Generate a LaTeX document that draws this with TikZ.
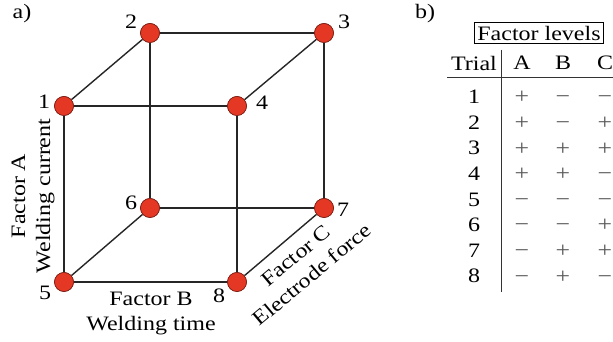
\documentclass[tikz,border=0pt]{standalone}
\usepackage{fontspec}
\setmainfont{Liberation Serif}[FakeStretch=1.17]
\definecolor{dotred}{RGB}{228,56,36}
\definecolor{dotedge}{RGB}{120,30,20}
\definecolor{signgray}{RGB}{90,90,90}
\tikzset{
  corner/.style={circle, fill=dotred, draw=dotedge, line width=0.6pt, minimum size=19pt, inner sep=0pt},
  edge/.style={line width=1.4pt, draw=black!85},
  txt/.style={font=\fontsize{20.5}{25}\selectfont, inner sep=0pt},
  sign/.style={font=\fontsize{22}{25}\selectfont, text=signgray, inner sep=0pt, anchor=base}
}
\begin{document}
\begin{tikzpicture}[x=1pt,y=1pt]
\useasboundingbox (0,0) rectangle (613,342);
\clip (0,0) rectangle (613,342);

% cube corners
\node[corner] (c1) at (64,236) {};
\node[corner] (c2) at (150,309) {};
\node[corner] (c3) at (324,309) {};
\node[corner] (c4) at (237,236) {};
\node[corner] (c5) at (64,60) {};
\node[corner] (c6) at (150,134) {};
\node[corner] (c7) at (324,134) {};
\node[corner] (c8) at (237,60) {};

% edges
\draw[edge] (c1) -- (c2);
\draw[edge] (c2) -- (c3);
\draw[edge] (c3) -- (c4);
\draw[edge] (c4) -- (c1);
\draw[edge] (c5) -- (c6);
\draw[edge] (c6) -- (c7);
\draw[edge] (c7) -- (c8);
\draw[edge] (c8) -- (c5);
\draw[edge] (c1) -- (c5);
\draw[edge] (c2) -- (c6);
\draw[edge] (c3) -- (c7);
\draw[edge] (c4) -- (c8);
\foreach \i in {1,...,8} {\node[corner] at (c\i) {};}

% corner numbers
\node[txt] (n1) at (44,240) {1};
\node[txt] (n2) at (131,320) {2};
\node[txt] (n3) at (344,320) {3};
\node[txt] (n4) at (262,239) {4};
\node[txt] (n5) at (45,49) {5};
\node[txt] (n6) at (131,139) {6};
\node[txt] (n7) at (343,132) {7};
\node[txt] (n8) at (219,46) {8};

% factor labels
\node[txt, align=center, rotate=90] (fa) at (33,146) {Factor A\\Welding current};
\node[txt, align=center] (fb) at (151,28) {Factor B\\Welding time};
\node[txt, align=center, rotate=40] (fc) at (304,77) {Factor C\\Electrode force};

\node[txt] (pa) at (22,328) {a)};
\node[txt] (pb) at (425,328) {b)};

% table
\node[txt, draw, line width=0.6pt, inner xsep=3pt, inner ysep=3pt] (lev) at (539,309) {Factor levels};
\node[txt, anchor=east] (trial) at (497,279) {Trial};
\node[txt] (ha) at (522,279) {A};
\node[txt] (hb) at (563,279) {B};
\node[txt] (hc) at (605,279) {C};
\coordinate (hl) at (447,265);
\coordinate (hr) at (613,265);
\coordinate (vt) at (501,292);
\coordinate (vb) at (501,50);
\draw[line width=0.8pt, black!80] (hl) -- (hr);
\draw[line width=0.8pt, black!80] (vt) -- (vb);

\foreach \r/\a/\b/\c [count=\k from 0] in {1/+/−/−, 2/+/−/+, 3/+/+/+, 4/+/+/−, 5/−/−/−, 6/−/−/+, 7/−/+/+, 8/−/+/−} {
  \node[txt] (r\r) at (474,245-25.6*\k) {\r};
  \node[sign] (ra\r) at (522,238-25.6*\k) {\a};
  \node[sign] (rb\r) at (563,238-25.6*\k) {\b};
  \node[sign] (rc\r) at (605,238-25.6*\k) {\c};
}
\end{tikzpicture}
\end{document}
